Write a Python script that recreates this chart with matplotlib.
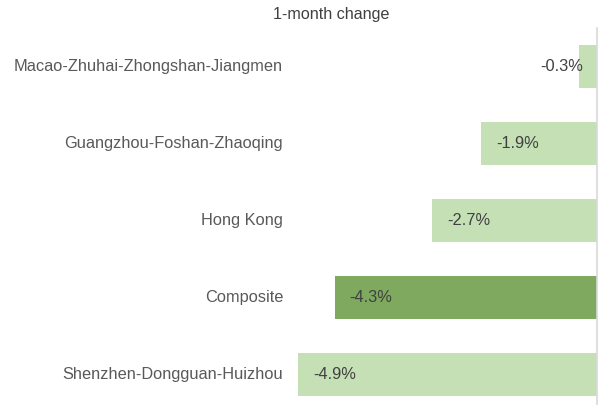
import matplotlib
matplotlib.use("Agg")
import matplotlib.pyplot as plt

categories = ["Macao-Zhuhai-Zhongshan-Jiangmen", "Guangzhou-Foshan-Zhaoqing",
              "Hong Kong", "Composite", "Shenzhen-Dongguan-Huizhou"]
values = [-0.3, -1.9, -2.7, -4.3, -4.9]
labels = ["-0.3%", "-1.9%", "-2.7%", "-4.3%", "-4.9%"]
colors = ["#C5E0B4", "#C5E0B4", "#C5E0B4", "#7EA95F", "#C5E0B4"]

plt.rcParams['font.family'] = ['Liberation Sans', 'DejaVu Sans']

W, H = 603, 405
fig = plt.figure(figsize=(W / 100, H / 100), dpi=100)
left_px, right_px, top_px, bottom_px = 292, 597, 28, 405
ax = fig.add_axes([left_px / W, 1 - bottom_px / H, (right_px - left_px) / W, (bottom_px - top_px) / H])

y = list(range(len(categories)))
ax.barh(y, values, height=0.57, color=colors, zorder=2)
ax.set_xlim(-5.0, 0)
ax.set_ylim(-0.5 + (bottom_px - top_px) / 77.0, -0.5)

for sp in ["top", "bottom", "left"]:
    ax.spines[sp].set_visible(False)
ax.spines["right"].set_color("#D9D9D9")
ax.spines["right"].set_linewidth(1.2)
ax.set_xticks([])
ax.set_yticks([])

for yi, cat in zip(y, categories):
    ax.annotate(cat, xy=(0, yi), xycoords=("axes fraction", "data"),
                xytext=(-9, 0), textcoords="offset pixels",
                ha="right", va="center", fontsize=11.8, color="#595959")

for yi, v, lab in zip(y, values, labels):
    if v > -1.0:
        ax.annotate(lab, xy=(v, yi), xytext=(4, 0), textcoords="offset pixels",
                    ha="right", va="center", fontsize=11.8, color="#404040")
    else:
        ax.annotate(lab, xy=(v, yi), xytext=(15, 0), textcoords="offset pixels",
                    ha="left", va="center", fontsize=11.8, color="#404040")

fig.text(331 / W, 1 - 15 / H, "1-month change", ha="center", va="center",
         fontsize=11.6, color="#404040")

fig.savefig("out.png", dpi=100)
